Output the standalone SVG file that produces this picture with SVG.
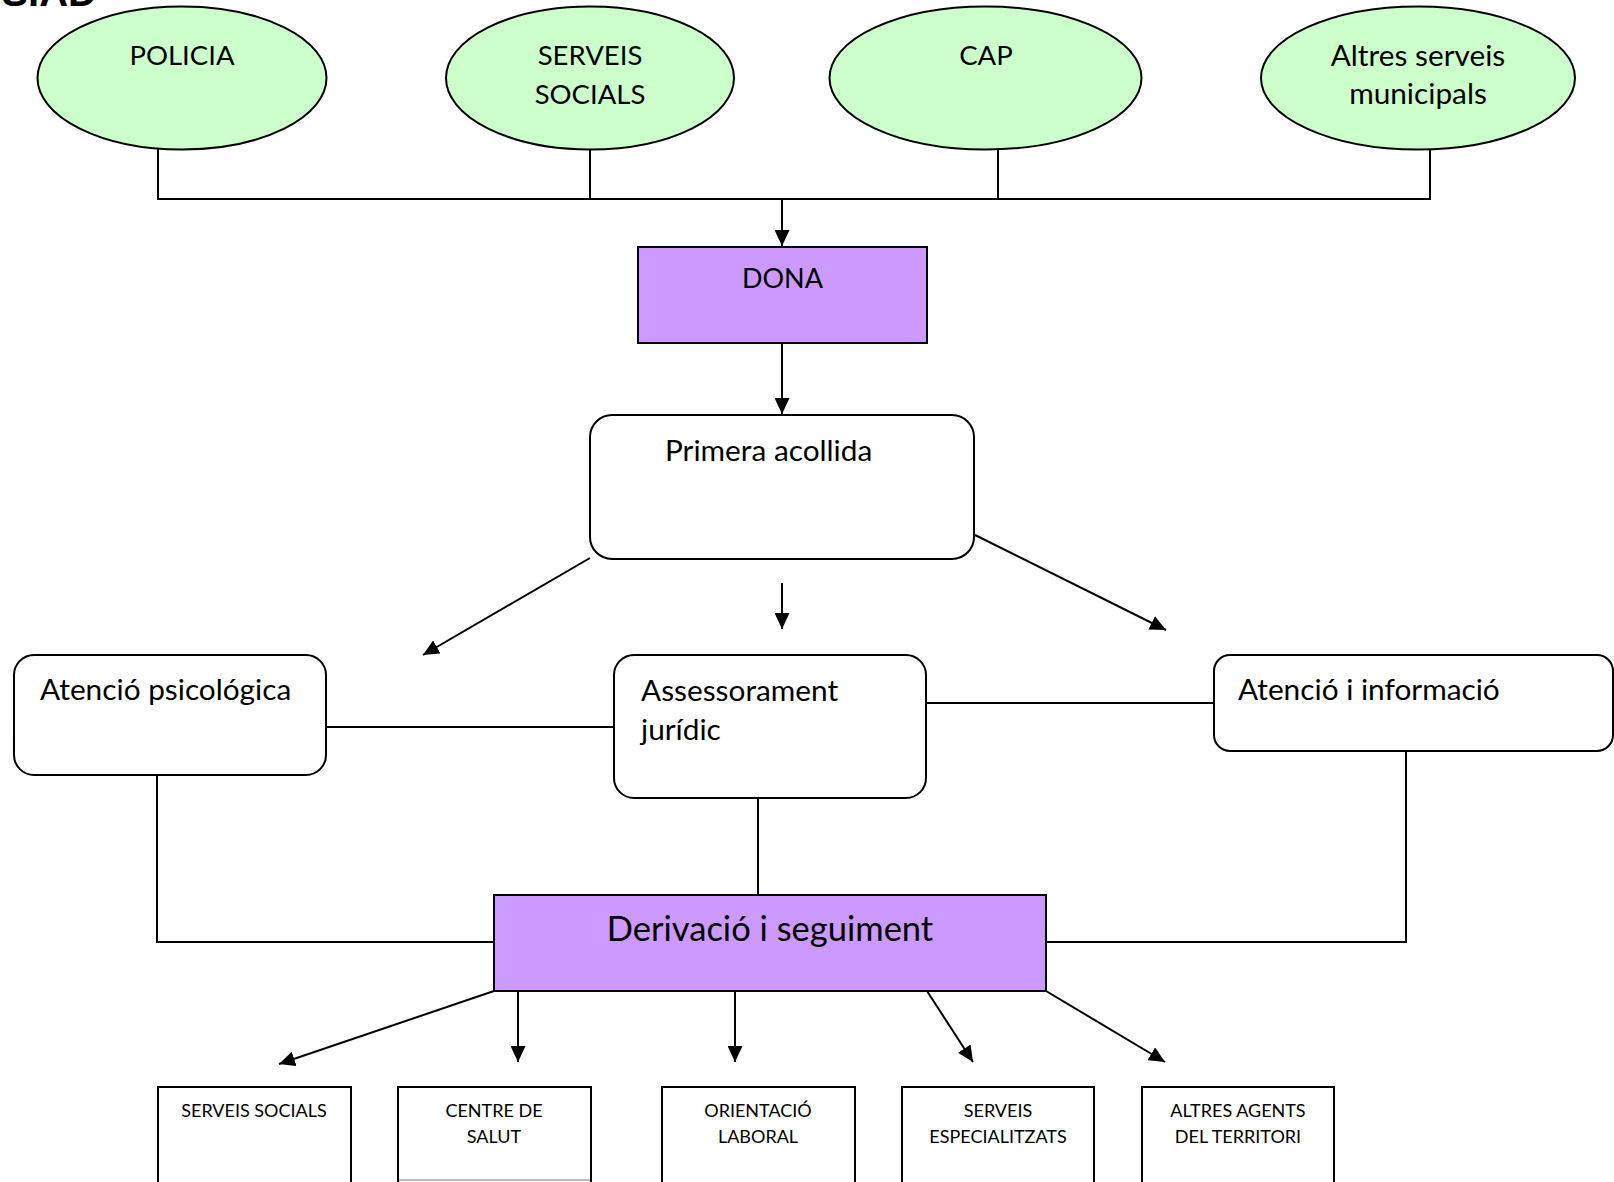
<svg xmlns="http://www.w3.org/2000/svg" width="1614" height="1182" viewBox="0 0 1614 1182">
<style>
.ell{fill:#CCFFCC;stroke:#000;stroke-width:2}
.pur{fill:#CC99FF;stroke:#000;stroke-width:2}
.box{fill:#fff;stroke:#000;stroke-width:2}
.con{fill:none;stroke:#000;stroke-width:2}
.t{font-family:Lato,"Liberation Sans",sans-serif;font-size:29.8px;fill:#000}
.tc{text-anchor:middle}
.up{font-size:27.5px}
.big{font-size:34.5px}
.sm{font-size:18px}
.title{font-family:"Liberation Sans",Arial,sans-serif;font-weight:bold;font-size:40px;fill:#000}
</style>
<defs>
<marker id="ah" markerUnits="userSpaceOnUse" markerWidth="16" markerHeight="15" viewBox="0 0 16 15" refX="16" refY="7.5" orient="auto">
<path d="M0,0 L16,7.5 L0,15 z" fill="#000"/>
</marker>
</defs>
<rect width="1614" height="1182" fill="#fff"/>
<text class="title" x="97" y="6" text-anchor="end">SIAD</text>

<g id="connectors">
<line class="con" x1="158" y1="149" x2="158" y2="199"/>
<line class="con" x1="590" y1="149" x2="590" y2="199"/>
<line class="con" x1="998" y1="149" x2="998" y2="199"/>
<line class="con" x1="1430" y1="149" x2="1430" y2="199"/>
<line class="con" x1="157" y1="199" x2="1431" y2="199"/>
<line class="con" x1="782" y1="199" x2="782" y2="246" marker-end="url(#ah)"/>
<line class="con" x1="782" y1="343" x2="782" y2="414" marker-end="url(#ah)"/>
<line class="con" x1="590" y1="558" x2="423" y2="655" marker-end="url(#ah)"/>
<line class="con" x1="782" y1="583" x2="782" y2="629" marker-end="url(#ah)"/>
<line class="con" x1="975" y1="535" x2="1166" y2="630" marker-end="url(#ah)"/>
<line class="con" x1="326" y1="727" x2="614" y2="727"/>
<line class="con" x1="926" y1="703" x2="1214" y2="703"/>
<polyline class="con" points="157,775 157,942 494,942"/>
<line class="con" x1="758" y1="798" x2="758" y2="895"/>
<polyline class="con" points="1406,751 1406,942 1046,942"/>
<line class="con" x1="494" y1="991" x2="279" y2="1064" marker-end="url(#ah)"/>
<line class="con" x1="518" y1="991" x2="518" y2="1062" marker-end="url(#ah)"/>
<line class="con" x1="735" y1="991" x2="735" y2="1062" marker-end="url(#ah)"/>
<line class="con" x1="927" y1="991" x2="973" y2="1062" marker-end="url(#ah)"/>
<line class="con" x1="1046" y1="991" x2="1165" y2="1062" marker-end="url(#ah)"/>
</g>

<g id="policia">
<ellipse class="ell" cx="182" cy="78" rx="144.5" ry="71.5"/>
<text class="t tc up" x="182" y="65">POLICIA</text>
</g>
<g id="serveis-socials-top">
<ellipse class="ell" cx="590" cy="78" rx="144" ry="71.5"/>
<text class="t tc up" x="590" y="65">SERVEIS</text>
<text class="t tc up" x="590" y="104">SOCIALS</text>
</g>
<g id="cap">
<ellipse class="ell" cx="985.5" cy="78" rx="156" ry="71.5"/>
<text class="t tc up" x="986" y="65">CAP</text>
</g>
<g id="altres-serveis">
<ellipse class="ell" cx="1418" cy="78" rx="157" ry="71.5"/>
<text class="t tc" x="1418" y="66">Altres serveis</text>
<text class="t tc" x="1418" y="104">municipals</text>
</g>

<g id="dona">
<rect class="pur" x="638" y="247" width="289" height="96"/>
<text class="t tc" style="font-size:27px" x="782.5" y="288">DONA</text>
</g>
<g id="primera-acollida">
<rect class="box" x="590" y="415" width="384" height="144" rx="22"/>
<text class="t" x="665" y="461">Primera acollida</text>
</g>
<g id="atencio-psicologica">
<rect class="box" x="14" y="655" width="312" height="120" rx="20"/>
<text class="t" x="40" y="700">Atenció psicológica</text>
</g>
<g id="assessorament">
<rect class="box" x="614" y="655" width="312" height="143" rx="20"/>
<text class="t" x="641" y="701">Assessorament</text>
<text class="t" x="641" y="740">jurídic</text>
</g>
<g id="atencio-informacio">
<rect class="box" x="1214" y="655" width="399" height="96" rx="16"/>
<text class="t" x="1238" y="700">Atenció i informació</text>
</g>
<g id="derivacio">
<rect class="pur" x="494" y="895" width="552" height="96"/>
<text class="t tc big" x="770" y="941">Derivació i seguiment</text>
</g>

<g id="b-serveis-socials">
<rect class="box" x="158" y="1087" width="193" height="110"/>
<text class="t tc sm" x="254" y="1117">SERVEIS SOCIALS</text>
</g>
<g id="b-centre-salut">
<rect class="box" x="398" y="1087" width="193" height="110"/>
<line x1="399" y1="1180" x2="590" y2="1180" stroke="#bbb" stroke-width="2"/>
<text class="t tc sm" x="494" y="1117">CENTRE DE</text>
<text class="t tc sm" x="494" y="1143">SALUT</text>
</g>
<g id="b-orientacio">
<rect class="box" x="662" y="1087" width="193" height="110"/>
<text class="t tc sm" x="758" y="1117">ORIENTACIÓ</text>
<text class="t tc sm" x="758" y="1143">LABORAL</text>
</g>
<g id="b-especialitzats">
<rect class="box" x="902" y="1087" width="192" height="110"/>
<text class="t tc sm" x="998" y="1117">SERVEIS</text>
<text class="t tc sm" x="998" y="1143">ESPECIALITZATS</text>
</g>
<g id="b-altres-agents">
<rect class="box" x="1142" y="1087" width="192" height="110"/>
<text class="t tc sm" x="1238" y="1117">ALTRES AGENTS</text>
<text class="t tc sm" x="1238" y="1143">DEL TERRITORI</text>
</g>
</svg>
